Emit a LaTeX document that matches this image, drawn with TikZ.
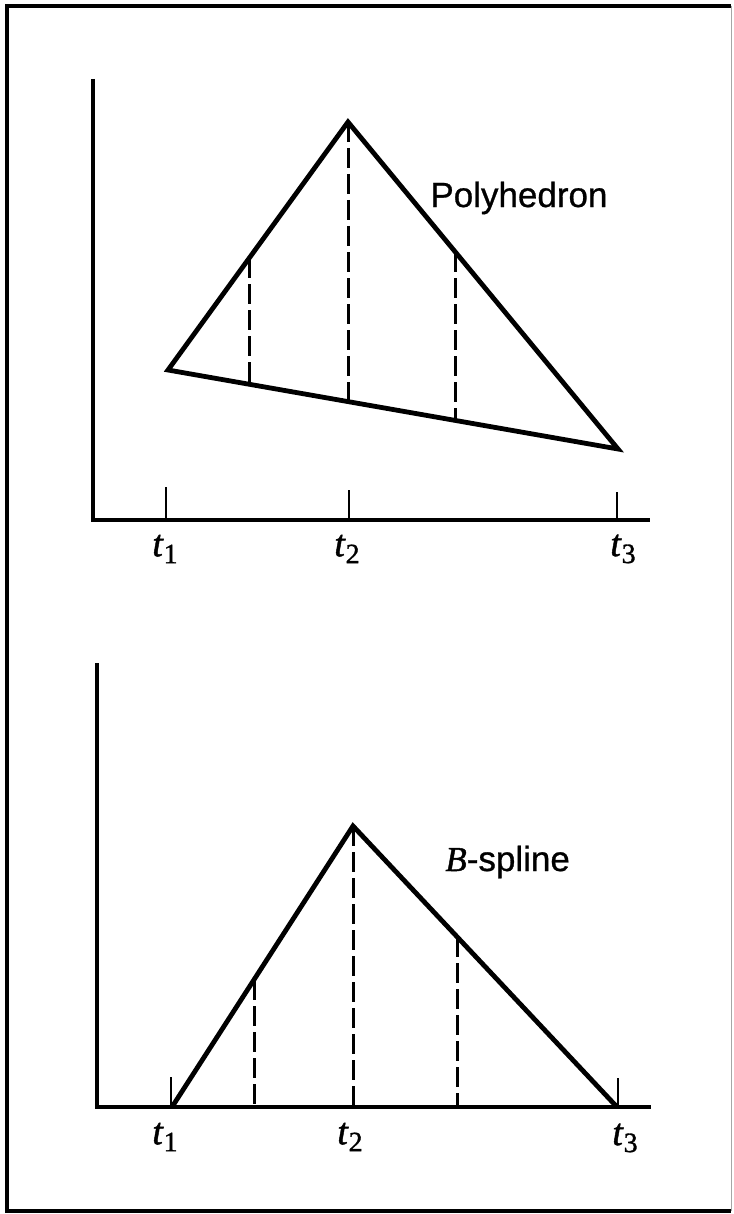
\documentclass[tikz,border=0pt]{standalone}
\usepackage{fontspec}
\setmainfont{Liberation Serif}
\setsansfont{Liberation Sans}
\newfontfamily\serifheavy[FakeBold=1.2]{Liberation Serif}
\newfontfamily\sansheavy[FakeBold=0.8]{Liberation Sans}
\begin{document}
\begin{tikzpicture}[x=0.5pt,y=-0.5pt,
  solidline/.style={line width=2.4pt,line join=miter},
  axisline/.style={line width=1.8pt},
  tickline/.style={line width=1.3pt},
  dashline/.style={line width=1.5pt,dash pattern=on 10pt off 3pt},
  tlabel/.style={font=\fontsize{19}{19}\selectfont\serifheavy\itshape,inner sep=0pt},
  curvelabel/.style={font=\fontsize{17.5}{18}\selectfont\sansheavy,inner sep=0pt,anchor=base west}]
\useasboundingbox (0,0) rectangle (733,1214);
% frame
\draw[line width=1.6pt] (731,6) -- (7,6) -- (7,1211) -- (731,1211);
\draw[line width=0.5pt,black!35] (731,6) -- (731,1211);

% ---------- top plot ----------
\coordinate (ya) at (93,79);
\coordinate (o1) at (93,520);
\coordinate (xa) at (650,520);
\draw[axisline] (ya) -- (o1) -- (xa);
\coordinate (k1) at (166,520); \coordinate (k1t) at (166,487);
\coordinate (k2) at (349,520); \coordinate (k2t) at (349,490);
\coordinate (k3) at (617,520); \coordinate (k3t) at (617,492);
\draw[tickline] (k1) -- (k1t) (k2) -- (k2t) (k3) -- (k3t);
\node[tlabel] (lt1) at (165,549) {t\textup{\raisebox{-0.4ex}{\fontsize{14}{14}\selectfont 1}}};
\node[tlabel] (lt2) at (347,549) {t\textup{\raisebox{-0.4ex}{\fontsize{14}{14}\selectfont 2}}};
\node[tlabel] (lt3) at (623,549) {t\textup{\raisebox{-0.4ex}{\fontsize{14}{14}\selectfont 3}}};

\coordinate (A) at (168,370);
\coordinate (P) at (348,122);
\coordinate (C) at (618,449);
\draw[solidline] (A) -- (P) -- (C) -- cycle;
\coordinate (d1a) at (249,258); \coordinate (d1b) at (249,384);
\coordinate (d2a) at (348,122); \coordinate (d2b) at (348,401);
\coordinate (d3a) at (455,252); \coordinate (d3b) at (455,420);
\draw[dashline] (d1a) -- (d1b) (d2a) -- (d2b) (d3a) -- (d3b);
\node[curvelabel] (poly) at (430,207) {Polyhedron};

% ---------- bottom plot ----------
\coordinate (yb) at (97,663);
\coordinate (o2) at (97,1107);
\coordinate (xb) at (651,1107);
\draw[axisline] (yb) -- (o2) -- (xb);
\coordinate (m1) at (171,1107); \coordinate (m1t) at (171,1077);
\coordinate (m3) at (618,1107); \coordinate (m3t) at (618,1078);
\draw[tickline] (m1) -- (m1t) (m3) -- (m3t);
\node[tlabel] (bt1) at (165,1137) {t\textup{\raisebox{-0.4ex}{\fontsize{14}{14}\selectfont 1}}};
\node[tlabel] (bt2) at (350,1137) {t\textup{\raisebox{-0.4ex}{\fontsize{14}{14}\selectfont 2}}};
\node[tlabel] (bt3) at (625,1138) {t\textup{\raisebox{-0.4ex}{\fontsize{14}{14}\selectfont 3}}};

\coordinate (B1) at (172,1107);
\coordinate (Q) at (353,826);
\coordinate (B3) at (617,1107);
\draw[solidline] (B1) -- (Q) -- (B3);
\coordinate (e1a) at (254,980); \coordinate (e1b) at (254,1107);
\coordinate (e2a) at (353,826); \coordinate (e2b) at (353,1107);
\coordinate (e3a) at (457,937); \coordinate (e3b) at (457,1107);
\draw[dashline] (e1a) -- (e1b) (e2a) -- (e2b) (e3a) -- (e3b);
\node[curvelabel] (bsp) at (445,871) {{\serifheavy\itshape B}-spline};
\end{tikzpicture}
\end{document}
